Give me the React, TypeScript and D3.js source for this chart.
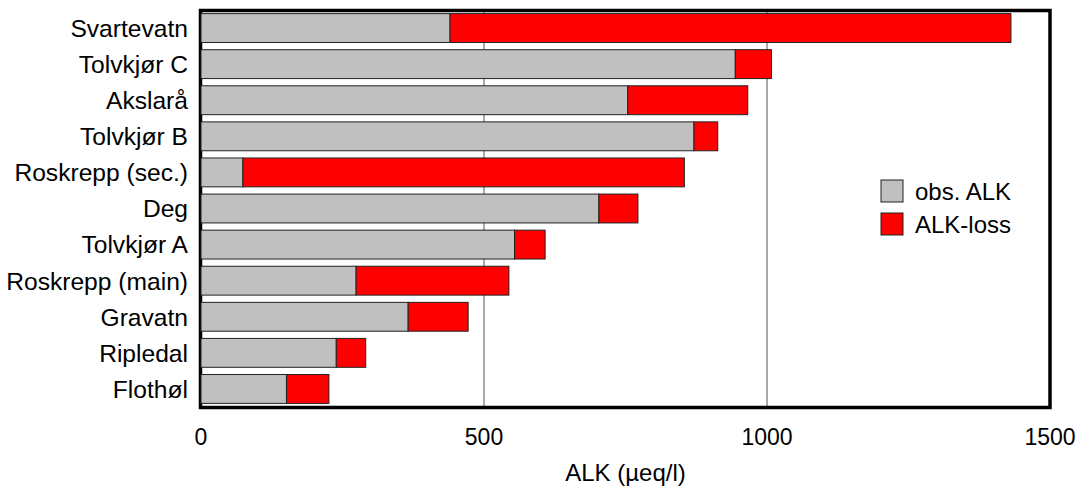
import React from "react";
import * as d3 from "d3";

const categories = [
  "Svartevatn",
  "Tolvkjør C",
  "Akslarå",
  "Tolvkjør B",
  "Roskrepp (sec.)",
  "Deg",
  "Tolvkjør A",
  "Roskrepp (main)",
  "Gravatn",
  "Ripledal",
  "Flothøl",
];
const obsALK = [440, 944, 754, 871, 74, 703, 554, 274, 366, 239, 151];
const alkLoss = [991, 64, 212, 42, 780, 69, 54, 270, 106, 52, 75];
const xTicks = [0, 500, 1000, 1500];
const gridTicks = [500, 1000];
const seriesNames = ["obs. ALK", "ALK-loss"];
const seriesColors = ["#c0c0c0", "#ff0000"];

const W = 1092;
const H = 489;
const left = 201;
const right = 1050;
const top = 10;
const bottom = 407;
const font = "'Liberation Sans', Arial, Helvetica, sans-serif";

export default function App() {
  const x = d3.scaleLinear().domain([0, 1500]).range([left, right]);
  const y = d3
    .scaleBand<string>()
    .domain(categories)
    .range([top, bottom])
    .paddingInner(0.2)
    .paddingOuter(0.1);
  const bw = y.bandwidth();

  return (
    <svg
      width={W}
      height={H}
      style={{ position: "absolute", left: 0, top: 0, background: "#fff" }}
      fontFamily={font}
    >
      <rect x={0} y={0} width={W} height={H} fill="#fff" />
      {gridTicks.map((t) => (
        <line
          key={t}
          x1={x(t)}
          x2={x(t)}
          y1={top}
          y2={bottom}
          stroke="#555"
          strokeWidth={1}
        />
      ))}
      <rect
        x={left - 0.5}
        y={top + 0.5}
        width={right - left + 0.5}
        height={bottom - top}
        fill="none"
        stroke="#000"
        strokeWidth={3.5}
      />
      {categories.map((c, i) => {
        const y0 = y(c)!;
        const x0 = x(0);
        const x1 = x(obsALK[i]);
        const x2 = x(obsALK[i] + alkLoss[i]);
        return (
          <g key={c}>
            <rect
              x={x0}
              y={y0}
              width={x1 - x0}
              height={bw}
              fill={seriesColors[0]}
              stroke="#222"
              strokeWidth={1}
            />
            <rect
              x={x1}
              y={y0}
              width={x2 - x1}
              height={bw}
              fill={seriesColors[1]}
              stroke="#222"
              strokeWidth={1}
            />
            <text
              x={188}
              y={y0 + bw / 2}
              dy="0.36em"
              textAnchor="end"
              fontSize={24.6}
              fill="#000"
            >
              {c}
            </text>
          </g>
        );
      })}
      {xTicks.map((t) => (
        <text
          key={t}
          x={x(t)}
          y={445}
          textAnchor="middle"
          fontSize={23}
          fill="#000"
        >
          {t}
        </text>
      ))}
      <text
        x={(left + right) / 2}
        y={481}
        textAnchor="middle"
        fontSize={24}
        fill="#000"
      >
        ALK (µeq/l)
      </text>
      {seriesNames.map((s, i) => (
        <g key={s}>
          <rect
            x={881}
            y={180 + i * 33}
            width={22}
            height={22}
            fill={seriesColors[i]}
            stroke="#222"
            strokeWidth={1}
          />
          <text x={915} y={200 + i * 33} fontSize={24} fill="#000">
            {s}
          </text>
        </g>
      ))}
    </svg>
  );
}
